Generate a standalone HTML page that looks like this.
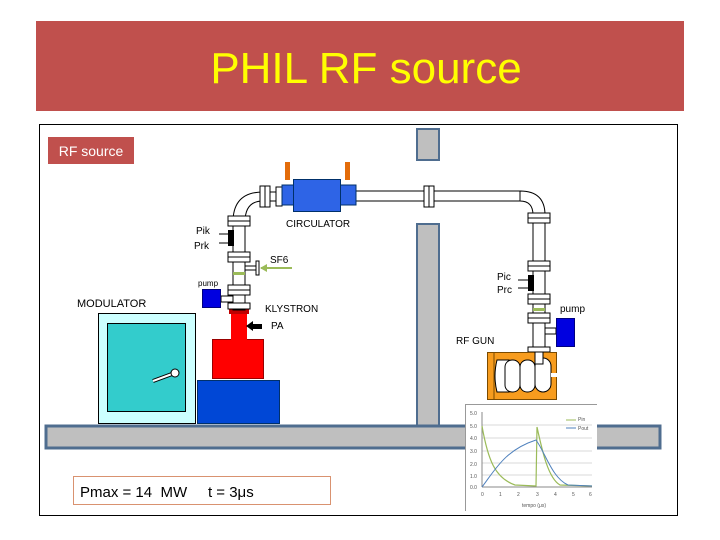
<!DOCTYPE html>
<html><head><meta charset="utf-8"><style>
html,body{margin:0;padding:0;background:#fff;width:720px;height:540px;overflow:hidden}
svg{display:block}
text{font-family:"Liberation Sans",sans-serif}
</style></head><body>
<svg width="720" height="540" viewBox="0 0 720 540" xmlns="http://www.w3.org/2000/svg">
<rect x="36" y="21" width="648" height="90" fill="#c0504d"/>
<text x="366" y="83" font-size="44" fill="#ffff00" text-anchor="middle">PHIL RF source</text>
<rect x="39.5" y="124.5" width="638" height="391" fill="#fff" stroke="#000" stroke-width="1"/>
<rect x="48" y="137" width="86" height="27" fill="#c0504d"/>
<text x="91" y="156" font-size="14" fill="#fff" text-anchor="middle">RF source</text>
<!-- wall -->
<rect x="417" y="129" width="22" height="31" fill="#bfbfbf" stroke="#4f6d8f" stroke-width="2"/>
<rect x="417" y="224" width="22" height="202" fill="#bfbfbf" stroke="#4f6d8f" stroke-width="2"/>
<!-- floor -->
<rect x="46" y="426" width="614" height="22" fill="#bfbfbf" stroke="#4f6d8f" stroke-width="3"/>
<!-- modulator -->
<rect x="98.5" y="313.5" width="97" height="110" fill="#ccffff" stroke="#000"/>
<rect x="107.5" y="323.5" width="78" height="88" fill="#33cccc" stroke="#000"/>
<line x1="153" y1="381" x2="172" y2="374" stroke="#000" stroke-width="4"/>
<line x1="153" y1="381" x2="172" y2="374" stroke="#fff" stroke-width="2"/>
<circle cx="175" cy="373" r="4" fill="#fff" stroke="#000"/>
<text x="77" y="307" font-size="11">MODULATOR</text>
<!-- klystron -->
<rect x="197.5" y="380.5" width="82" height="43" fill="#0047d6" stroke="#00306a"/>
<rect x="212.5" y="339.5" width="51" height="39" fill="#ff0000" stroke="#900"/>
<rect x="231" y="313" width="16" height="27" fill="#ff0000"/>
<rect x="229" y="309" width="20" height="5" fill="#c00000"/>
<text x="265" y="312" font-size="10">KLYSTRON</text>
<text x="271" y="329" font-size="10">PA</text>
<polygon points="246,326 253,321 253,324 262,324 262,329 253,329 253,331" fill="#000"/>
<!-- pipes -->
<g fill="#fff" stroke="#000">
<path d="M233,310 V222 Q233,192 263,192 H290 V201 H263 Q245,201 245,222 V310 Z"/>
<rect x="355" y="191" width="166" height="10"/>
<path d="M520,191 Q545,191 545,215 V352 H533 V215 Q533,201 520,201 Z"/>
<!-- flanges left -->
<rect x="228" y="216" width="22" height="5"/><rect x="228" y="221" width="22" height="5"/>
<rect x="228" y="252" width="22" height="5"/><rect x="228" y="257" width="22" height="5"/>
<rect x="228" y="285" width="22" height="5"/><rect x="228" y="290" width="22" height="5"/>
<rect x="228" y="303" width="22" height="6"/>
<rect x="260" y="186" width="5" height="21"/><rect x="265" y="186" width="5" height="21"/>
<rect x="276" y="187" width="6" height="19"/>
<rect x="424" y="186" width="5" height="21"/><rect x="429" y="186" width="5" height="21"/>
<!-- flanges right -->
<rect x="528" y="213" width="22" height="5"/><rect x="528" y="218" width="22" height="5"/>
<rect x="528" y="261" width="22" height="5"/><rect x="528" y="266" width="22" height="5"/>
<rect x="528" y="294" width="22" height="5"/><rect x="528" y="299" width="22" height="5"/>
<rect x="528" y="313" width="22" height="5"/><rect x="528" y="318" width="22" height="5"/>
<rect x="528" y="347" width="22" height="5"/>
<!-- SF6 stub -->
<rect x="245" y="266" width="12" height="4"/><rect x="256" y="261" width="3" height="14"/>
<!-- pump stubs -->
<rect x="221" y="296" width="12" height="6"/>
<rect x="545" y="328" width="11" height="6"/>
</g>
<!-- circulator -->
<rect x="285" y="162" width="5" height="18" fill="#e36c0a"/>
<rect x="345" y="162" width="5" height="18" fill="#e36c0a"/>
<rect x="282" y="185" width="74" height="20" fill="#2e64e6" stroke="#00306a"/>
<rect x="293.5" y="179.5" width="47" height="32" fill="#2e64e6" stroke="#00306a"/>
<text x="286" y="227" font-size="10">CIRCULATOR</text>
<!-- Pik Prk -->
<rect x="228" y="230" width="6" height="16" fill="#000"/>
<line x1="219" y1="234" x2="228" y2="234" stroke="#000"/><line x1="219" y1="243" x2="228" y2="243" stroke="#000"/>
<text x="196" y="234" font-size="10">Pik</text><text x="194" y="249" font-size="10">Prk</text>
<rect x="233" y="272" width="12" height="3" fill="#9bbb59"/>
<line x1="261" y1="268" x2="292" y2="268" stroke="#9bbb59" stroke-width="2"/>
<polygon points="260,268 267,264 267,272" fill="#9bbb59"/>
<text x="270" y="263" font-size="10">SF6</text>
<rect x="202.5" y="289.5" width="18" height="18" fill="#0000e0" stroke="#000080"/>
<text x="198" y="286" font-size="8">pump</text>
<!-- right side -->
<rect x="528" y="275" width="6" height="16" fill="#000"/>
<line x1="518" y1="280" x2="528" y2="280" stroke="#000"/><line x1="518" y1="288" x2="528" y2="288" stroke="#000"/>
<text x="497" y="280" font-size="10">Pic</text><text x="497" y="293" font-size="10">Prc</text>
<rect x="533" y="308" width="12" height="3" fill="#9bbb59"/>
<rect x="556.5" y="318.5" width="18" height="28" fill="#0000e0" stroke="#000080"/>
<text x="560" y="312" font-size="10">pump</text>
<text x="456" y="344" font-size="10">RF GUN</text>
<!-- gun -->
<rect x="487.5" y="352.5" width="69" height="47" fill="#f79c1e" stroke="#7a4a00"/>
<line x1="494" y1="353" x2="494" y2="399" stroke="#7a4a00"/>
<g fill="#fff" stroke="#000">
<path d="M497,360 h12 v32 h-12 q-4,-16 0,-32z"/>
<rect x="505" y="360" width="15" height="32" rx="7"/>
<rect x="520" y="360" width="15" height="32" rx="7"/>
<rect x="535" y="358" width="16" height="34" rx="8"/>
<rect x="535" y="352" width="8" height="12"/>
</g>
<rect x="551" y="373" width="6" height="4" fill="#fff"/>
<!-- Pmax -->
<rect x="73.5" y="476.5" width="257" height="28" fill="#fff" stroke="#d99270"/>
<text x="80" y="497" font-size="15" xml:space="preserve" style="white-space:pre">Pmax = 14  MW     t = 3μs</text>
<!-- chart -->
<rect x="465" y="404" width="132" height="107" fill="#fff"/>
<line x1="465.5" y1="404" x2="465.5" y2="511" stroke="#999"/>
<line x1="465" y1="404.5" x2="597" y2="404.5" stroke="#999"/>
<g stroke="#ccc" stroke-width="0.8">
<line x1="482" y1="425" x2="592" y2="425"/><line x1="482" y1="438" x2="592" y2="438"/>
<line x1="482" y1="451" x2="592" y2="451"/><line x1="482" y1="463" x2="592" y2="463"/>
<line x1="482" y1="475" x2="592" y2="475"/>
</g>
<line x1="482" y1="412" x2="482" y2="487" stroke="#888"/>
<line x1="482" y1="487" x2="592" y2="487" stroke="#888"/>
<g font-size="5" fill="#555">
<text x="470" y="415">5.0</text><text x="470" y="428">5.0</text><text x="470" y="440">4.0</text>
<text x="470" y="453">3.0</text><text x="470" y="466">2.0</text><text x="470" y="478">1.0</text><text x="470" y="489">0.0</text>
<text x="481" y="496">0</text><text x="499" y="496">1</text><text x="517" y="496">2</text><text x="536" y="496">3</text>
<text x="554" y="496">4</text><text x="572" y="496">5</text><text x="589" y="496">6</text>
<text x="522" y="507">tempo (μs)</text>
<text x="578" y="421">Pin</text><text x="578" y="430">Pout</text>
</g>
<line x1="566" y1="420" x2="576" y2="420" stroke="#9bbb59"/>
<line x1="566" y1="428" x2="576" y2="428" stroke="#4f81bd"/>
<path d="M482,426 C488,460 495,478 515,485 L536,486 L537,427 C542,450 548,478 560,485 L592,486" fill="none" stroke="#9bbb59" stroke-width="1.2"/>
<path d="M482,487 C495,470 505,450 536,440 C545,452 552,478 568,485 L592,486" fill="none" stroke="#4f81bd" stroke-width="1"/>
</svg>
</body></html>
